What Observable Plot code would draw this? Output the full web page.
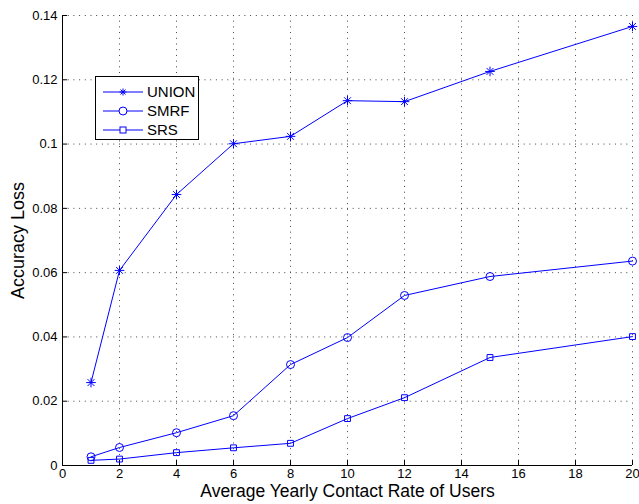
<!DOCTYPE html>
<html>
<head>
<meta charset="utf-8">
<script src="https://cdn.jsdelivr.net/npm/d3@7"></script>
<script src="https://cdn.jsdelivr.net/npm/@observablehq/plot@0.6"></script>
<style>
  html, body { margin: 0; padding: 0; background: #fff; }
  #wrap { position: relative; width: 639px; height: 504px; font-family: "Liberation Sans", Arial, sans-serif; }
  #legend { position: absolute; left: 95px; top: 76px; width: 104px; height: 64px; border: 1px solid #000; background: #fff; box-sizing: border-box; }
  #legend .row { position: absolute; left: 0; height: 20px; display: flex; align-items: center; }
  #legend .row span { font-size: 15px; color: #000; margin-left: 1px; }
</style>
</head>
<body>
<div id="wrap"></div>
<script>
const xValues = [1, 2, 4, 6, 8, 10, 12, 15, 20];
const unionValues = [0.0258, 0.0607, 0.0843, 0.1001, 0.1024, 0.1135, 0.1132, 0.1226, 0.1366];
const smrfValues = [0.0027, 0.0056, 0.0102, 0.0155, 0.0314, 0.0398, 0.0529, 0.0588, 0.0636];
const srsValues = [0.0016, 0.0020, 0.0040, 0.0055, 0.0069, 0.0146, 0.0211, 0.0336, 0.0401];
const seriesNames = ["UNION", "SMRF", "SRS"];
const xTicks = [0, 2, 4, 6, 8, 10, 12, 14, 16, 18, 20];
const xTickLabels = ["0", "2", "4", "6", "8", "10", "12", "14", "16", "18", "20"];
const yTicks = [0, 0.02, 0.04, 0.06, 0.08, 0.1, 0.12, 0.14];
const yTickLabels = ["0", "0.02", "0.04", "0.06", "0.08", "0.1", "0.12", "0.14"];

const blue = "#0000ff";
const rows = (vals, name) => xValues.map((x, i) => ({x, y: vals[i], series: name}));
const union = rows(unionValues, seriesNames[0]);
const smrf = rows(smrfValues, seriesNames[1]);
const srs = rows(srsValues, seriesNames[2]);

const chart = Plot.plot({
  width: 639,
  height: 504,
  marginLeft: 62,
  marginRight: 7,
  marginTop: 15,
  marginBottom: 39,
  style: {fontFamily: "'Liberation Sans', Arial, sans-serif", fontSize: "13px", color: "#000", background: "#fff"},
  x: {domain: [0, 20]},
  y: {domain: [0, 0.14]},
  marks: [
    Plot.gridX(xTicks, {stroke: "#444", strokeOpacity: 1, strokeWidth: 1, strokeDasharray: "1,4.7"}),
    Plot.gridY(yTicks, {stroke: "#444", strokeOpacity: 1, strokeWidth: 1, strokeDasharray: "1,4.7"}),
    Plot.axisX(xTicks, {tickSize: 0, tickPadding: 3, tickFormat: (d, i) => xTickLabels[i], fontSize: 13, label: null}),
    Plot.axisX(xTicks, {tickSize: -5, text: null, label: null}),
    Plot.axisY(yTicks, {tickSize: 0, tickPadding: 5, tickFormat: (d, i) => yTickLabels[i], fontSize: 13, label: null}),
    Plot.axisY(yTicks, {tickSize: -5, text: null, label: null}),
    Plot.ruleX([0], {stroke: "#000", strokeWidth: 1}),
    Plot.ruleY([0], {stroke: "#000", strokeWidth: 1}),
    Plot.lineY(union, {x: "x", y: "y", stroke: blue, strokeWidth: 1}),
    Plot.lineY(smrf, {x: "x", y: "y", stroke: blue, strokeWidth: 1}),
    Plot.lineY(srs, {x: "x", y: "y", stroke: blue, strokeWidth: 1}),
    Plot.dot(union, {x: "x", y: "y", symbol: "plus", r: 3.2, stroke: blue, strokeWidth: 1}),
    Plot.dot(union, {x: "x", y: "y", symbol: "times", r: 3.2, stroke: blue, strokeWidth: 1}),
    Plot.dot(smrf, {x: "x", y: "y", symbol: "circle", r: 4, stroke: blue, fill: "none", strokeWidth: 1}),
    Plot.dot(srs, {x: "x", y: "y", symbol: "square", r: 3.3, stroke: blue, fill: "none", strokeWidth: 1}),
    Plot.text(["Average Yearly Contact Rate of Users"], {frameAnchor: "bottom", dy: 31.5, fontSize: 17.5, textAnchor: "middle", fill: "#000"}),
    Plot.text(["Accuracy Loss"], {frameAnchor: "left", dx: -44, rotate: -90, fontSize: 18, textAnchor: "middle", fill: "#000"})
  ]
});
const wrap = document.getElementById("wrap");
wrap.appendChild(chart);

// legend
const legend = document.createElement("div");
legend.id = "legend";
const symbols = ["star", "circle", "square"];
seriesNames.forEach((name, i) => {
  const row = document.createElement("div");
  row.className = "row";
  row.style.top = (4.5 + i * 19) + "px";
  const ns = "http://www.w3.org/2000/svg";
  const svg = document.createElementNS(ns, "svg");
  svg.setAttribute("width", 50);
  svg.setAttribute("height", 20);
  const line = document.createElementNS(ns, "line");
  line.setAttribute("x1", 7); line.setAttribute("x2", 47);
  line.setAttribute("y1", 10); line.setAttribute("y2", 10);
  line.setAttribute("stroke", blue);
  svg.appendChild(line);
  const cx = 27, cy = 10;
  let shape;
  if (symbols[i] === "star") {
    shape = document.createElementNS(ns, "path");
    shape.setAttribute("d", `M${cx-3.5},${cy}h7M${cx},${cy-3.5}v7M${cx-2.5},${cy-2.5}l5,5M${cx-2.5},${cy+2.5}l5,-5`);
  } else if (symbols[i] === "circle") {
    shape = document.createElementNS(ns, "circle");
    shape.setAttribute("cx", cx); shape.setAttribute("cy", cy); shape.setAttribute("r", 4);
  } else {
    shape = document.createElementNS(ns, "rect");
    shape.setAttribute("x", cx - 3); shape.setAttribute("y", cy - 3);
    shape.setAttribute("width", 6); shape.setAttribute("height", 6);
  }
  shape.setAttribute("stroke", blue);
  shape.setAttribute("fill", "#fff");
  svg.appendChild(shape);
  row.appendChild(svg);
  const label = document.createElement("span");
  label.textContent = name;
  row.appendChild(label);
  legend.appendChild(row);
});
wrap.appendChild(legend);
</script>
</body>
</html>
